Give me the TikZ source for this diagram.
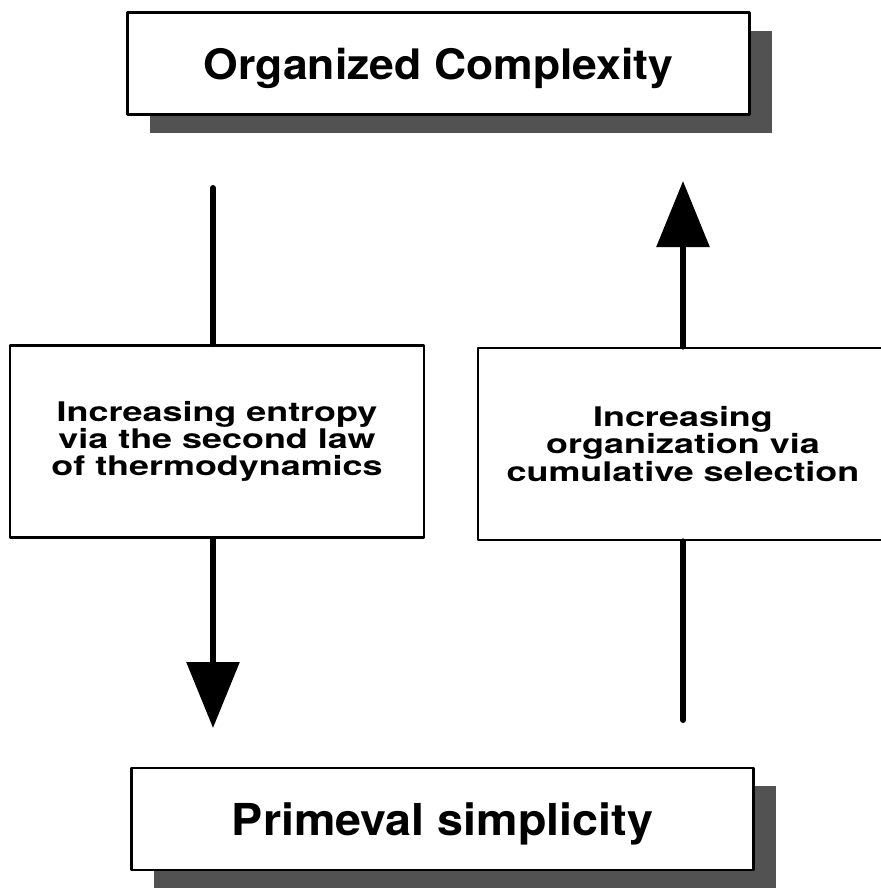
\documentclass[tikz,border=0pt]{standalone}
\usepackage{fontspec}
\newfontfamily\boxfont{TeX Gyre Heros}[FakeStretch=1.06]
\newfontfamily\midfont{TeX Gyre Heros}[FakeStretch=1.33]
\usetikzlibrary{arrows.meta,shadows}

\begin{document}
\begin{tikzpicture}[x=0.5pt,y=-0.5pt,line cap=round,line join=round,
  bigbox/.style={draw,line width=1.4pt,fill=white,minimum width=311pt,minimum height=51pt,
    text depth=0pt,
    drop shadow={shadow xshift=11pt,shadow yshift=-9pt,fill=black!68,opacity=1},
    font=\boxfont\bfseries},
  midbox/.style={draw,line width=1.4pt,fill=white,minimum width=207pt,minimum height=96pt,
    align=center,font=\midfont\bfseries\fontsize{13.5}{13.6}\selectfont},
  flow/.style={line width=3pt}]
  \clip (0,0) rectangle (881,889);
  \node[bigbox,font=\boxfont\bfseries\fontsize{21}{24}\selectfont] (organized) at (438.5,63.5) {Organized Complexity};
  \node[bigbox,font=\boxfont\bfseries\fontsize{22}{25}\selectfont] (primeval) at (442.5,819) {Primeval simplicity};
  \node[midbox] (entropy) at (217,441.5) {Increasing entropy\\via the second law\\of thermodynamics};
  \node[midbox,minimum width=205pt] (selection) at (683,444) {Increasing\\organization via\\cumulative selection};
  \coordinate (downtop) at (213,188); \coordinate (downtip) at (213,728);
  \coordinate (uptip) at (683,181); \coordinate (upfoot) at (683,720);
  \draw[flow] (downtop) -- (downtop |- entropy.north);
  \draw[flow,-{Triangle[length=33pt,width=26pt]}] (entropy.south -| downtip) -- (downtip);
  \draw[flow] (upfoot) -- (upfoot |- selection.south);
  \draw[flow,-{Triangle[length=33pt,width=26pt]}] (selection.north -| uptip) -- (uptip);
\end{tikzpicture}
\end{document}
